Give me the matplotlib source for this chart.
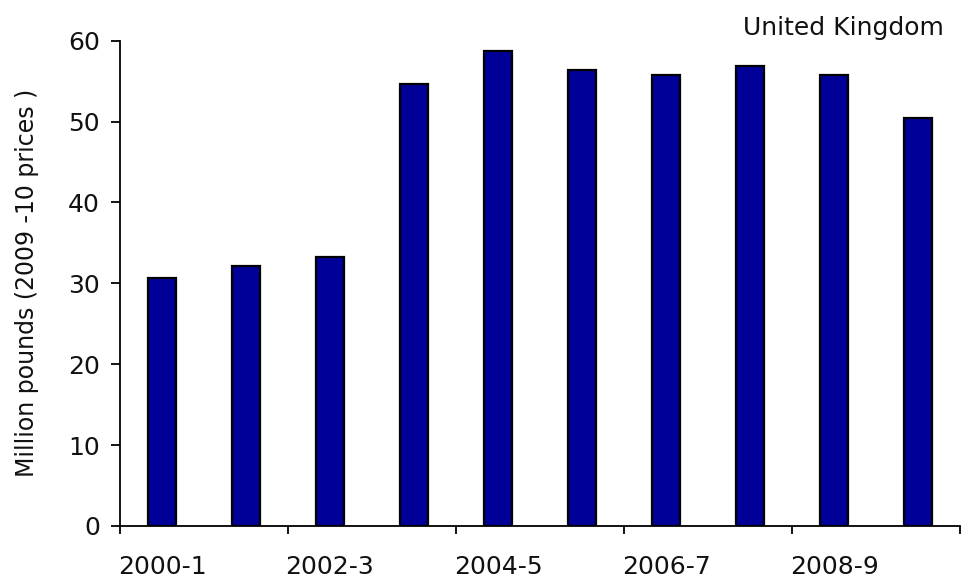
import matplotlib
matplotlib.use("Agg")
import matplotlib.pyplot as plt
import numpy as np

# Annual spending, million pounds at 2009-10 prices
years = ["2000-1", "2001-2", "2002-3", "2003-4", "2004-5",
         "2005-6", "2006-7", "2007-8", "2008-9", "2009-10"]
values = [30.7, 32.1, 33.2, 54.7, 58.7, 56.4, 55.7, 56.9, 55.7, 50.5]
yticks = [0, 10, 20, 30, 40, 50, 60]

plt.rcParams["font.family"] = ["DejaVu Sans"]

fig = plt.figure(figsize=(9.62, 5.78), dpi=100)
ax = fig.add_axes([0.1247, 0.09, 0.8733, 0.8396])

x = np.arange(len(years))
ax.bar(x, values, width=1/3, color="#000099", edgecolor="black", linewidth=1.6)

ax.set_xlim(-0.5, len(years) - 0.5)
ax.set_ylim(0, 60)

# Tick marks at every second category boundary; labels on alternating categories
ax.set_xticks(np.arange(-0.5, len(years), 2))
ax.set_xticklabels([])
ax.set_xticks(x[::2], minor=True)
ax.set_xticklabels(years[::2], minor=True, fontsize=18, color="#111111")
ax.tick_params(axis="x", which="major", direction="out", length=6, width=1.3)
ax.tick_params(axis="x", which="minor", length=0, pad=21)

ax.set_yticks(yticks)
ax.set_yticklabels([str(v) for v in yticks], fontsize=18, color="#111111")
ax.tick_params(axis="y", direction="out", length=6.5, width=1.3, pad=8)

ax.set_ylabel("Million pounds (2009 -10 prices )", fontsize=17, color="#111111", labelpad=21)

for side in ("top", "right"):
    ax.spines[side].set_visible(False)
for side in ("left", "bottom"):
    ax.spines[side].set_linewidth(1.3)

fig.text(0.981, 0.952, "United Kingdom", ha="right", va="center",
         fontsize=18, color="#111111")

fig.savefig("out.png", dpi=100)
